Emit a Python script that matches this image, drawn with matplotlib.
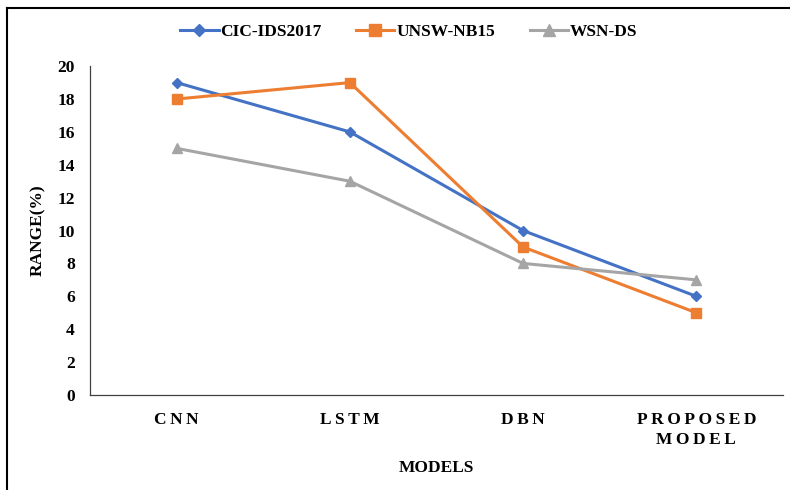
import matplotlib
matplotlib.use("Agg")
import matplotlib.pyplot as plt
from matplotlib.lines import Line2D

# data for the three datasets across the models
models = ["CNN", "LSTM", "DBN", "PROPOSED\nMODEL"]
cic_ids2017 = [19, 16, 10, 6]
unsw_nb15 = [18, 19, 9, 5]
wsn_ds = [15, 13, 8, 7]

plt.rcParams['font.family'] = ['Liberation Serif', 'DejaVu Serif']
plt.rcParams['font.weight'] = 'bold'

fig = plt.figure(figsize=(7.9, 4.9), dpi=100)
ax = fig.add_axes([0.114, 0.194, 0.877, 0.671])

x = [i + 0.5 for i in range(len(models))]
ax.plot(x, cic_ids2017, color='#4472C4', lw=2.2, marker='D', ms=5.5,
        label='CIC-IDS2017')
ax.plot(x, unsw_nb15, color='#ED7D31', lw=2.2, marker='s', ms=7.5,
        label='UNSW-NB15')
ax.plot(x, wsn_ds, color='#A5A5A5', lw=2.2, marker='^', ms=7.5,
        label='WSN-DS')

ax.set_xlim(0, 4)
ax.set_ylim(0, 20)
ax.set_yticks(range(0, 21, 2))
ax.set_xticks(x)
# spread out the letters of the category labels
spaced = ["\n".join("\u2009".join(w) for w in m.split("\n")) for m in models]
ax.set_xticklabels(spaced, fontsize=12.5, fontweight='bold', linespacing=1.4)
ax.tick_params(axis='both', length=0, labelsize=12.5)
ax.tick_params(axis='x', pad=12)
ax.tick_params(axis='y', pad=11)
for lab in ax.get_yticklabels():
    lab.set_fontweight('bold')

ax.spines['top'].set_visible(False)
ax.spines['right'].set_visible(False)
ax.spines['left'].set_color('#404040')
ax.spines['bottom'].set_color('#404040')
ax.spines['left'].set_linewidth(0.9)
ax.spines['bottom'].set_linewidth(0.9)

ax.set_xlabel("MODELS", fontsize=12.5, fontweight='bold', labelpad=8)
ax.set_ylabel("RANGE(%)", fontsize=12.5, fontweight='bold', labelpad=8)

ax.legend(loc='center', bbox_to_anchor=(0.46, 1.104), ncol=3,
          frameon=False, handlelength=2.2, handletextpad=0.1,
          columnspacing=2.0, markerscale=1.15,
          prop={'weight': 'bold', 'size': 12.5})

# border on the left and top edges of the figure
fig.add_artist(Line2D([0.009, 0.009], [0, 0.984], color='black', lw=1.5,
                      transform=fig.transFigure))
fig.add_artist(Line2D([0.009, 1], [0.984, 0.984], color='black', lw=1.5,
                      transform=fig.transFigure))

fig.savefig("out.png", dpi=100)
